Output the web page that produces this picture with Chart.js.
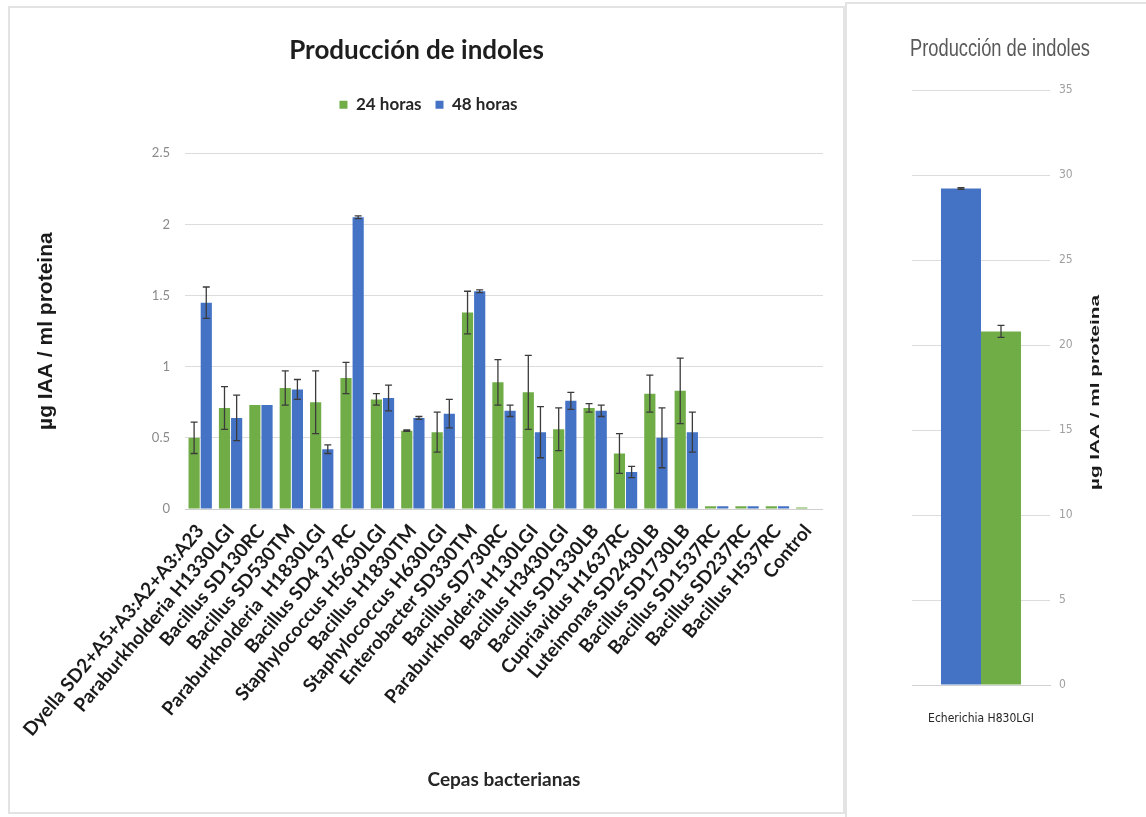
<!DOCTYPE html>
<html lang="es">
<head>
  <meta charset="UTF-8">
  <title>Producción de indoles</title>
  <script src="https://cdn.jsdelivr.net/npm/chart.js@4"></script>
  <style>
    body {
      margin: 0;
      background: #ffffff;
      font-family: Lato, sans-serif;
    }
    .panel-main {
      position: absolute;
      left: 8px;
      top: 6px;
      width: 833px;
      height: 804px;
      border: 2px solid #e3e3e3;
      background: #fff;
    }
    .panel-side {
      position: absolute;
      left: 845px;
      top: 2px;
      width: 301px;
      height: 815px;
      border-left: 2px solid #e3e3e3;
      border-top: 2px solid #e3e3e3;
      background: #fff;
    }
    canvas { display: block; }
  </style>
</head>
<body>
  <div class="panel-main"><canvas id="mainChart" width="813" height="804"></canvas></div>
  <div class="panel-side"><canvas id="sideChart" width="299" height="813"></canvas></div>

  <script>
    // cepas evaluadas
    const cepas = [
      'Dyella SD2+A5+A3:A2+A3:A23',
      'Paraburkholderia H1330LGI',
      'Bacillus SD130RC',
      'Bacillus SD530TM',
      'Paraburkholderia  H1830LGI',
      'Bacillus SD4 37 RC',
      'Staphylococcus H5630LGI',
      'Bacillus H1830TM',
      'Staphylococcus H630LGI',
      'Enterobacter SD330TM',
      'Bacillus SD730RC',
      'Paraburkholderia H130LGI',
      'Bacillus H3430LGI',
      'Bacillus SD1330LB',
      'Cupriavidus H1637RC',
      'Luteimonas SD2430LB',
      'Bacillus SD1730LB',
      'Bacillus SD1537RC',
      'Bacillus SD237RC',
      'Bacillus H537RC',
      'Control'
    ];

    // µg IAA / ml proteina
    const horas24 = [0.50, 0.71, 0.73, 0.85, 0.75, 0.92, 0.77, 0.55, 0.54, 1.38, 0.89, 0.82, 0.56, 0.71, 0.39, 0.81, 0.83, 0.02, 0.02, 0.02, 0.01];
    const error24 = [0.11, 0.15, 0.00, 0.12, 0.22, 0.11, 0.04, 0.005, 0.14, 0.15, 0.16, 0.26, 0.15, 0.03, 0.14, 0.13, 0.23, 0, 0, 0, 0];
    const horas48 = [1.45, 0.64, 0.73, 0.84, 0.42, 2.05, 0.78, 0.64, 0.67, 1.53, 0.69, 0.54, 0.76, 0.69, 0.26, 0.50, 0.54, 0.02, 0.02, 0.02, 0];
    const error48 = [0.11, 0.16, 0.00, 0.07, 0.03, 0.01, 0.09, 0.01, 0.10, 0.01, 0.04, 0.18, 0.06, 0.04, 0.04, 0.21, 0.14, 0, 0, 0, 0];

    // E. coli por separado (escala distinta)
    const cepaEcoli = ['Echerichia H830LGI'];
    const ecoli48 = [29.2];
    const ecoli48Error = [0.05];
    const ecoli24 = [20.8];
    const ecoli24Error = [0.35];

    const ticksMain = [0, 0.5, 1, 1.5, 2, 2.5];
    const ticksSide = [0, 5, 10, 15, 20, 25, 30, 35];

    const VERDE = '#70ad47';
    const AZUL = '#4472c4';

    Chart.defaults.font.family = 'Lato, sans-serif';
    Chart.defaults.animation = false;

    // barras de error (desviación) sobre cada barra
    const errorBars = {
      id: 'errorBars',
      afterDatasetsDraw(chart) {
        const ctx = chart.ctx;
        const y = chart.scales.y;
        chart.data.datasets.forEach((ds, i) => {
          if (!ds.errors) return;
          const meta = chart.getDatasetMeta(i);
          meta.data.forEach((bar, j) => {
            const v = ds.data[j];
            const e = ds.errors[j];
            if (!e) return;
            const top = y.getPixelForValue(v + e);
            const bot = y.getPixelForValue(v - e);
            const cap = 3.5;
            ctx.save();
            ctx.strokeStyle = '#3b3b3b';
            ctx.lineWidth = 1.3;
            ctx.beginPath();
            ctx.moveTo(bar.x, top); ctx.lineTo(bar.x, bot);
            ctx.moveTo(bar.x - cap, top); ctx.lineTo(bar.x + cap, top);
            ctx.moveTo(bar.x - cap, bot); ctx.lineTo(bar.x + cap, bot);
            ctx.stroke();
            ctx.restore();
          });
        });
      }
    };

    // espacio extra bajo la leyenda y leyenda algo corrida a la derecha
    const legendGap = {
      id: 'legendGap',
      beforeInit(chart) {
        const fit = chart.legend.fit;
        chart.legend.fit = function () {
          fit.bind(chart.legend)();
          this.height += 30;
        };
      },
      afterLayout(chart) {
        chart.legend.left += 12;
        chart.legend.right += 12;
      }
    };

    const etiquetaNum = v => String(v);

    new Chart(document.getElementById('mainChart'), {
      type: 'bar',
      data: {
        labels: cepas,
        datasets: [
          { label: '24 horas', data: horas24, errors: error24, backgroundColor: VERDE, categoryPercentage: 0.8, barPercentage: 0.92 },
          { label: '48 horas', data: horas48, errors: error48, backgroundColor: AZUL, categoryPercentage: 0.8, barPercentage: 0.92 }
        ]
      },
      options: {
        responsive: false,
        layout: { padding: { left: 0, right: 0, top: 0, bottom: 0 } },
        plugins: {
          title: {
            display: true,
            text: 'Producción de indoles',
            color: '#1e1e1e',
            font: { size: 26, weight: 'bold' },
            padding: { top: 27, bottom: 16 }
          },
          legend: {
            position: 'top',
            labels: {
              boxWidth: 8,
              boxHeight: 8,
              color: '#262626',
              padding: 14,
              font: { size: 17, weight: 'bold' }
            }
          },
          tooltip: { enabled: false }
        },
        scales: {
          x: {
            grid: { display: false },
            border: { color: '#cfcfcf' },
            ticks: {
              color: '#1a1a1a',
              autoSkip: false,
              minRotation: 50,
              maxRotation: 50,
              font: { size: 19, weight: 'bold' }
            },
            title: {
              display: true,
              text: 'Cepas bacterianas',
              color: '#262626',
              font: { size: 19, weight: 'bold' },
              padding: { top: 0, bottom: 21 }
            },
            afterFit(scale) {
              scale.height = 303;
              scale.paddingLeft = 0;
              scale.paddingRight = 0;
            }
          },
          y: {
            min: 0,
            max: 2.5,
            grid: { color: '#dcdcdc', drawTicks: false },
            border: { display: false },
            afterBuildTicks(scale) {
              scale.ticks = ticksMain.map(v => ({ value: v }));
            },
            ticks: {
              color: '#8a8a8a',
              padding: 15,
              font: { size: 13 },
              callback: etiquetaNum
            },
            title: {
              display: true,
              text: 'µg IAA / ml proteina',
              color: '#1a1a1a',
              font: { family: '"Liberation Sans", Arial, sans-serif', size: 21, weight: 'bold' },
              padding: { top: 24, bottom: 0 }
            },
            afterFit(scale) {
              scale.width = 175;
              scale.paddingTop = 0;
              scale.paddingBottom = 0;
            }
          }
        }
      },
      plugins: [errorBars, legendGap]
    });

    const NARROW = '"Liberation Sans Narrow", "DejaVu Sans Condensed", Roboto, sans-serif';

    // texto comprimido o estirado a un ancho dado
    function textoAjustado(ctx, texto, x, y, ancho, rot, font, color) {
      ctx.save();
      ctx.font = font;
      ctx.fillStyle = color;
      ctx.textAlign = 'center';
      ctx.textBaseline = 'middle';
      ctx.translate(x, y);
      ctx.rotate(rot);
      const w = ctx.measureText(texto).width;
      ctx.scale(ancho / w, 1);
      ctx.fillText(texto, 0, 0);
      ctx.restore();
    }

    // título y rótulo del eje (a la derecha, de abajo hacia arriba)
    const sideText = {
      id: 'sideText',
      afterDraw(chart) {
        const ctx = chart.ctx;
        const area = chart.chartArea;
        textoAjustado(ctx, 'Producción de indoles', (area.left + area.right) / 2 + 19, 46, 180, 0,
          '23px "Liberation Sans", Arial, sans-serif', '#595959');
        textoAjustado(ctx, 'µg IAA / ml proteina', 248, (area.top + area.bottom) / 2 + 5, 195, -Math.PI / 2,
          'bold 13px "Liberation Sans", Arial, sans-serif', '#1a1a1a');
      }
    };

    new Chart(document.getElementById('sideChart'), {
      type: 'bar',
      data: {
        labels: cepaEcoli,
        datasets: [
          { label: '48 horas', data: ecoli48, errors: ecoli48Error, backgroundColor: AZUL, categoryPercentage: 0.58, barPercentage: 1 },
          { label: '24 horas', data: ecoli24, errors: ecoli24Error, backgroundColor: VERDE, categoryPercentage: 0.58, barPercentage: 1 }
        ]
      },
      options: {
        responsive: false,
        layout: { padding: { left: 65, right: 0, top: 86, bottom: 0 } },
        plugins: {
          title: { display: false },
          legend: { display: false },
          tooltip: { enabled: false }
        },
        scales: {
          x: {
            grid: { display: false },
            border: { color: '#d0d0d0' },
            ticks: {
              color: '#262626',
              padding: 19,
              font: { family: NARROW, size: 12 }
            },
            afterFit(scale) {
              scale.height = 132;
              scale.paddingLeft = 0;
              scale.paddingRight = 0;
            }
          },
          y: {
            position: 'right',
            min: 0,
            max: 35,
            grid: { color: '#dcdcdc', drawTicks: false },
            border: { display: false },
            afterBuildTicks(scale) {
              scale.ticks = ticksSide.map(v => ({ value: v }));
            },
            ticks: {
              color: '#a0a0a0',
              padding: 9,
              font: { family: NARROW, size: 12 }
            },
            afterFit(scale) {
              scale.width = 96;
              scale.paddingTop = 0;
              scale.paddingBottom = 0;
            }
          }
        }
      },
      plugins: [errorBars, sideText]
    });
  </script>
</body>
</html>
